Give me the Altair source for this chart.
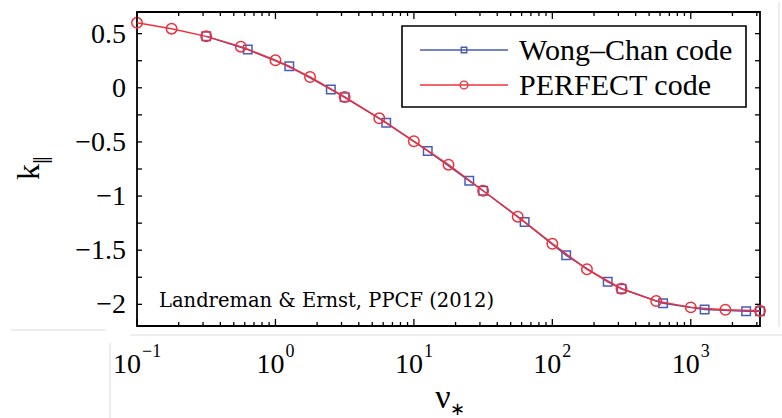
import altair as alt
import pandas as pd

# ---- data ----
pf_x = [0.1, 0.1778, 0.3162, 0.5623, 1.0, 1.778, 3.162, 5.623, 10.0, 17.78,
        31.62, 56.23, 100.0, 177.8, 316.2, 562.3, 1000.0, 1778.0, 3162.0]
pf_y = [0.60, 0.546, 0.475, 0.38, 0.254, 0.10, -0.085, -0.282, -0.494, -0.71,
        -0.951, -1.19, -1.44, -1.676, -1.856, -1.97, -2.028, -2.05, -2.06]
wc_x = [0.3162, 0.631, 1.259, 2.512, 3.162, 6.31, 12.59, 25.12, 31.62, 63.1,
        125.9, 251.2, 316.2, 631.0, 1259.0, 2512.0, 3162.0]
wc_y = [0.475, 0.353, 0.199, -0.015, -0.088, -0.322, -0.583, -0.859, -0.951,
        -1.24, -1.547, -1.792, -1.856, -1.989, -2.047, -2.063, -2.063]
series_names = ["Wong–Chan code", "PERFECT code"]
x_major = [0.1, 1, 10, 100, 1000]
x_base = ["10", "10", "10", "10", "10"]
x_exp = ["−1", "0", "1", "2", "3"]
x_minor = [m * d for d in [0.1, 1, 10, 100, 1000] for m in range(2, 10) if m * d <= 3162]
y_label_vals = [-2, -1.5, -1, -0.5, 0, 0.5]
y_label_text = ["−2", "−1.5", "−1", "−0.5", "0", "0.5"]
y_ticks = [-2, -1.75, -1.5, -1.25, -1, -0.75, -0.5, -0.25, 0, 0.25, 0.5]
note = "Landreman & Ernst, PPCF (2012)"

W, H = 623, 314
BLUE = "#4a5bb8"
RED = "#f0303a"
SERIF = "Liberation Serif"

xs = alt.Scale(type="log", domain=[0.1, 3162.3], nice=False)
ys = alt.Scale(domain=[-2.2, 0.7], nice=False, zero=False)

wc = pd.DataFrame({"x": wc_x, "y": wc_y})
pf = pd.DataFrame({"x": pf_x, "y": pf_y})
xlab = pd.DataFrame({"v": x_major, "base": x_base, "e": x_exp})
ylab = pd.DataFrame({"v": y_label_vals, "t": y_label_text})


def X(field):
    return alt.X(f"{field}:Q", scale=xs, axis=None)


def Y(field):
    return alt.Y(f"{field}:Q", scale=ys, axis=None)


blue_line = alt.Chart(wc).mark_line(color=BLUE, strokeWidth=1.5).encode(x=X("x"), y=Y("y"))
blue_pts = alt.Chart(wc).mark_point(shape="square", color=BLUE, size=72,
                                    strokeWidth=1.5, filled=False, opacity=1).encode(
    x=X("x"), y=Y("y"))
red_line = alt.Chart(pf).mark_line(color=RED, strokeWidth=1.5).encode(x=X("x"), y=Y("y"))
red_pts = alt.Chart(pf).mark_point(shape="circle", color=RED, size=110,
                                   strokeWidth=1.5, filled=False, opacity=1).encode(
    x=X("x"), y=Y("y"))


# inward ticks on all four sides
def xticks(vals, length):
    df = pd.DataFrame({"v": vals})
    bot = alt.Chart(df).mark_rule(color="black", strokeWidth=1.3).encode(
        x=X("v"), y=alt.value(H), y2=alt.value(H - length))
    top = alt.Chart(df).mark_rule(color="black", strokeWidth=1.3).encode(
        x=X("v"), y=alt.value(0), y2=alt.value(length))
    return [bot, top]


def yticks(vals, length):
    df = pd.DataFrame({"v": vals})
    left = alt.Chart(df).mark_rule(color="black", strokeWidth=1.3).encode(
        y=Y("v"), x=alt.value(0), x2=alt.value(length))
    right = alt.Chart(df).mark_rule(color="black", strokeWidth=1.3).encode(
        y=Y("v"), x=alt.value(W), x2=alt.value(W - length))
    return [left, right]


tick_layers = xticks(x_major, 7) + xticks(x_minor, 4) + yticks(y_ticks, 5)

# x tick labels: "10" with a raised exponent, the pair centred on the tick
xlab_layers = []
for cond, shift in [("length(datum.e) > 1", 4), ("length(datum.e) == 1", 9)]:
    base = alt.Chart(xlab).transform_filter(cond)
    xlab_layers.append(base.mark_text(font=SERIF, fontSize=28, color="black", align="right",
                                      baseline="alphabetic", dx=shift).encode(
        x=X("v"), y=alt.value(H + 47), text="base:N"))
    xlab_layers.append(base.mark_text(font=SERIF, fontSize=18, color="black", align="left",
                                      baseline="alphabetic", dx=shift + 1).encode(
        x=X("v"), y=alt.value(H + 31), text="e:N"))

# y tick labels
ylab_layer = alt.Chart(ylab).mark_text(font=SERIF, fontSize=28, color="black", align="right",
                                       baseline="middle", dy=1).encode(
    y=Y("v"), x=alt.value(-11), text="t:N")

one = alt.Data(values=[{}])

# legend (drawn by hand, MATLAB style)
leg_box = alt.Chart(one).mark_rect(fill="white", stroke="black", strokeWidth=1.6).encode(
    x=alt.value(265), x2=alt.value(609), y=alt.value(14), y2=alt.value(95))
leg_layers = [leg_box]
for i, (name, col, shp, sz) in enumerate(zip(series_names, [BLUE, RED],
                                             ["square", "circle"], [30, 60])):
    yy = 38 + 35 * i
    leg_layers.append(alt.Chart(one).mark_rule(color=col, strokeWidth=1.5).encode(
        x=alt.value(283), x2=alt.value(371), y=alt.value(yy)))
    leg_layers.append(alt.Chart(one).mark_point(shape=shp, color=col, size=sz, filled=False,
                                                strokeWidth=1.4, opacity=1).encode(
        x=alt.value(327), y=alt.value(yy)))
    leg_layers.append(alt.Chart(one).mark_text(align="left", baseline="middle", font=SERIF,
                                               fontSize=30, color="black").encode(
        x=alt.value(382), y=alt.value(yy + 1), text=alt.value(name)))

note_layer = alt.Chart(one).mark_text(align="left", baseline="middle", font="DejaVu Serif",
                                      fontSize=19.5, color="black").encode(
    x=alt.value(22), y=alt.value(289), text=alt.value(note))

# axis titles
ttl = [
    alt.Chart(one).mark_text(font=SERIF, fontSize=34, color="black", baseline="middle",
                             align="center").encode(
        x=alt.value(306), y=alt.value(386), text=alt.value("ν")),
    alt.Chart(one).mark_text(font=SERIF, fontSize=18, color="black", baseline="middle",
                             align="center").encode(
        x=alt.value(320), y=alt.value(398), text=alt.value("∗")),
    alt.Chart(one).mark_text(font=SERIF, fontSize=32, color="black", baseline="middle",
                             align="center", angle=270).encode(
        x=alt.value(-108), y=alt.value(160), text=alt.value("k")),
    alt.Chart(one).mark_text(font=SERIF, fontSize=28, color="black", baseline="middle",
                             align="center", angle=270).encode(
        x=alt.value(-93), y=alt.value(148), text=alt.value("‖")),
]

# faint screenshot edge lines around the figure
GR = "#dcdcdc"
edges = [
    alt.Chart(one).mark_rule(color=GR, strokeWidth=1).encode(
        x=alt.value(-7), x2=alt.value(645), y=alt.value(323)),
    alt.Chart(one).mark_rule(color=GR, strokeWidth=1).encode(
        x=alt.value(-126), x2=alt.value(-31), y=alt.value(318)),
    alt.Chart(one).mark_rule(color=GR, strokeWidth=1).encode(
        x=alt.value(-27), y=alt.value(331), y2=alt.value(406)),
    alt.Chart(one).mark_rule(color=GR, strokeWidth=1).encode(
        x=alt.value(642), y=alt.value(-10), y2=alt.value(315)),
]

chart = alt.layer(
    *edges, blue_line, blue_pts, red_line, red_pts, *tick_layers, *xlab_layers,
    ylab_layer, note_layer, *leg_layers, *ttl
).properties(
    width=W, height=H,
    autosize=alt.AutoSizeParams(type="none"),
    padding={"left": 137, "top": 12, "right": 22, "bottom": 92},
    background="white",
).configure_view(stroke="black", strokeWidth=1.8)

chart.save("out.html", embed_options={"renderer": "svg", "actions": False})
